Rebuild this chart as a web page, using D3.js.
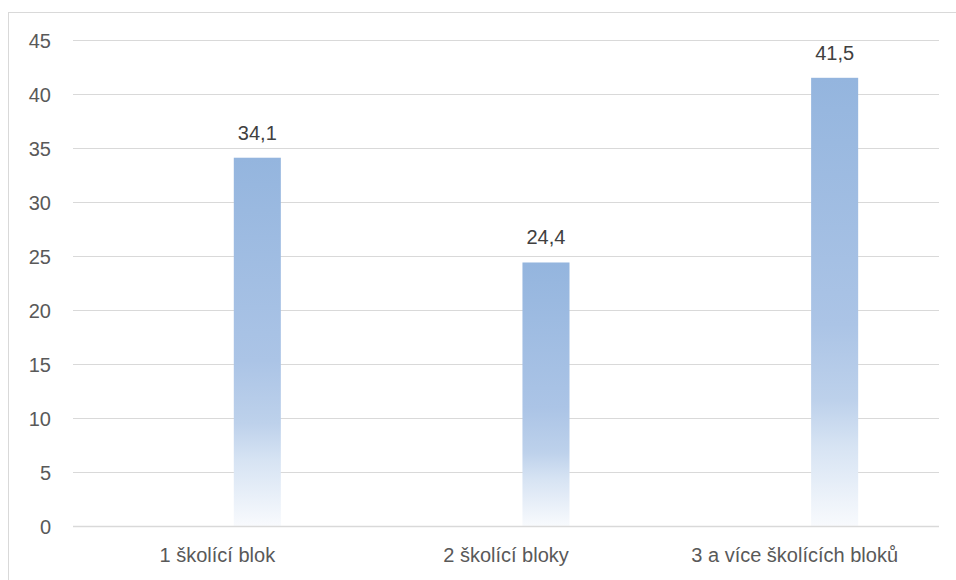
<!DOCTYPE html>
<html>
<head>
<meta charset="utf-8">
<script src="https://cdn.jsdelivr.net/npm/d3@7"></script>
<style>
  html, body { margin: 0; padding: 0; background: #fff; }
  svg { display: block; font-family: "Liberation Sans", "DejaVu Sans", sans-serif; }
</style>
</head>
<body>
<svg id="chart" width="956" height="580"></svg>
<script>
// Chart data
const categories = ["1 školící blok", "2 školící bloky", "3 a více školících bloků"];
const values = [34.1, 24.4, 41.5];
const valueLabels = ["34,1", "24,4", "41,5"];
const yTicks = [0, 5, 10, 15, 20, 25, 30, 35, 40, 45];

const svg = d3.select("#chart");
const W = 956, H = 580;
const plot = { left: 73, right: 939, top: 40, bottom: 526 };
const FONT = 20;

// outer frame (extends past the visible area on the right and bottom)
svg.append("rect")
  .attr("x", 8.5).attr("y", 12.5)
  .attr("width", W + 20).attr("height", H + 20)
  .attr("fill", "none").attr("stroke", "#d9d9d9").attr("stroke-width", 1);

const x = d3.scaleBand().domain(categories).range([plot.left, plot.right]).padding(0);
const y = d3.scaleLinear().domain([0, 45]).range([plot.bottom, plot.top]);

// bar gradient: blue at top fading to near white at the base
const defs = svg.append("defs");
const grad = defs.append("linearGradient")
  .attr("id", "barGrad").attr("x1", 0).attr("y1", 0).attr("x2", 0).attr("y2", 1);
[[0, "#94b5de"], [0.55, "#abc4e6"], [0.72, "#bdd1eb"], [0.82, "#d6e3f3"], [1, "#f8fafd"]]
  .forEach(([o, c]) => grad.append("stop").attr("offset", o).attr("stop-color", c));

// gridlines
svg.append("g")
  .selectAll("line")
  .data(yTicks)
  .join("line")
  .attr("x1", plot.left).attr("x2", plot.right)
  .attr("y1", d => Math.round(y(d)) + 0.5).attr("y2", d => Math.round(y(d)) + 0.5)
  .attr("stroke", "#d9d9d9").attr("stroke-width", 1);

// y axis labels
const yAxis = d3.axisLeft(y).tickValues(yTicks).tickSize(0).tickPadding(0);
const yg = svg.append("g").attr("transform", `translate(${plot.left - 22},0)`).call(yAxis);
yg.select(".domain").remove();
yg.selectAll("text")
  .attr("fill", "#595959").attr("font-size", FONT).attr("dy", "0.36em")
  .attr("font-family", "Liberation Sans, sans-serif");

// bars sit in the right half of each category slot
const barW = x.bandwidth() * 0.163;
const barOffset = x.bandwidth() * 0.557;

svg.append("g")
  .selectAll("rect")
  .data(values)
  .join("rect")
  .attr("x", (d, i) => x(categories[i]) + barOffset)
  .attr("y", d => y(d))
  .attr("width", barW)
  .attr("height", d => y(0) - y(d))
  .attr("fill", "url(#barGrad)");

// baseline
svg.append("line")
  .attr("x1", plot.left).attr("x2", plot.right)
  .attr("y1", Math.round(y(0)) + 0.5).attr("y2", Math.round(y(0)) + 0.5)
  .attr("stroke", "#d9d9d9").attr("stroke-width", 1.5);

// value labels
svg.append("g")
  .selectAll("text")
  .data(values)
  .join("text")
  .attr("x", (d, i) => x(categories[i]) + barOffset + barW / 2)
  .attr("y", d => y(d) - 18)
  .attr("text-anchor", "middle")
  .attr("fill", "#404040")
  .attr("font-size", FONT)
  .text((d, i) => valueLabels[i]);

// category axis labels
const xAxis = d3.axisBottom(x).tickSize(0).tickPadding(0);
const xg = svg.append("g").attr("transform", `translate(0,${plot.bottom + 22})`).call(xAxis);
xg.select(".domain").remove();
xg.selectAll("text")
  .attr("fill", "#595959").attr("font-size", FONT).attr("dy", "0.71em")
  .attr("font-family", "Liberation Sans, sans-serif");
</script>
</body>
</html>
